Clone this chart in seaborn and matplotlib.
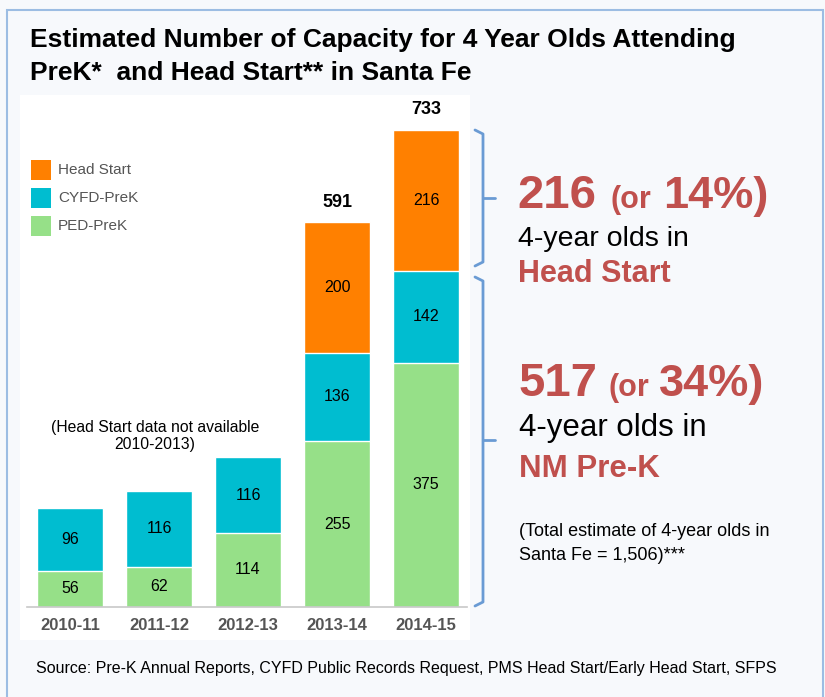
from matplotlib import pyplot as plt
from matplotlib.patches import Rectangle
from matplotlib.lines import Line2D
import seaborn as sns
import numpy as np

years = ["2010-11", "2011-12", "2012-13", "2013-14", "2014-15"]
ped_prek = [56, 62, 114, 255, 375]
cyfd_prek = [96, 116, 116, 136, 142]
head_start = [0, 0, 0, 200, 216]

orange = "#FF8000"
cyan = "#00BDD0"
green = "#96E088"
red = "#C0504D"
blue = "#6A9BD4"

sns.set_theme(style="white")
plt.rcParams['font.family'] = ['Liberation Sans', 'DejaVu Sans']

W, H = 825, 697
fig = plt.figure(figsize=(W / 100, H / 100), dpi=100)
fig.patch.set_facecolor("#F7F9FC")


def fx(x):
    return x / W


def fy(y):
    return 1 - y / H


# frame border
fig.add_artist(Rectangle((fx(7), fy(700)), fx(823 - 7), fy(10) - fy(700),
                         fill=False, edgecolor="#9CBDE3", lw=1.5, transform=fig.transFigure))
# white chart panel
fig.add_artist(Rectangle((fx(20), fy(640)), fx(470 - 20), fy(95) - fy(640),
                         facecolor="white", edgecolor="none", transform=fig.transFigure, zorder=0))

ax = fig.add_axes([fx(27), fy(607), fx(467 - 27), fy(100) - fy(607)])
ax.set_facecolor("none")

ped = np.array(ped_prek)
cy = np.array(cyfd_prek)
hs = np.array(head_start)
width = 0.75

sns.barplot(x=years, y=ped + cy + hs, color=orange, width=width, saturation=1, ax=ax, order=years)
sns.barplot(x=years, y=ped + cy, color=cyan, width=width, saturation=1, ax=ax, order=years)
sns.barplot(x=years, y=ped, color=green, width=width, saturation=1, ax=ax, order=years)

for i in range(len(years)):
    ax.text(i, ped[i] / 2, str(ped[i]), ha="center", va="center", fontsize=11.5, color="black")
    ax.text(i, ped[i] + cy[i] / 2, str(cy[i]), ha="center", va="center", fontsize=11.5, color="black")
    if hs[i] > 0:
        ax.text(i, ped[i] + cy[i] + hs[i] / 2, str(hs[i]), ha="center", va="center",
                fontsize=11.5, color="black")
        tot = ped[i] + cy[i] + hs[i]
        ax.text(i, tot + 18, str(tot), ha="center", va="bottom", fontsize=13,
                fontweight="bold", color="black")

ax.set_xlim(-0.483, 4.46)
ax.set_ylim(0, 779)
ax.set_yticks([])
ax.set_xlabel("")
ax.set_ylabel("")
for s in ["top", "right", "left"]:
    ax.spines[s].set_visible(False)
ax.spines["bottom"].set_color("#C8C8C8")
ax.spines["bottom"].set_linewidth(1.2)
ax.tick_params(axis="x", length=0, pad=8)
ax.set_xticks(np.arange(0.5, 4, 1), minor=True)
ax.tick_params(axis="x", which="minor", length=5, color="#C8C8C8", direction="out")
for lab in ax.get_xticklabels():
    lab.set_fontweight("bold")
    lab.set_fontsize(12)
    lab.set_color("#555555")

# legend
leg = [("Head Start", orange, 170), ("CYFD-PreK", cyan, 198), ("PED-PreK", green, 226)]
for name, c, y in leg:
    fig.add_artist(Rectangle((fx(31), fy(y + 10)), fx(20), fy(y - 10) - fy(y + 10),
                             facecolor=c, edgecolor="none", transform=fig.transFigure))
    fig.text(fx(58), fy(y), name, ha="left", va="center", fontsize=11, color="#555555")

fig.text(fx(155), fy(436), "(Head Start data not available\n2010-2013)", ha="center", va="center",
         fontsize=11.3, color="black", linespacing=1.1)

# title
fig.text(fx(30), fy(40), "Estimated Number of Capacity for 4 Year Olds Attending",
         ha="left", va="center", fontsize=19, fontweight="bold", color="black")
fig.text(fx(30), fy(73), "PreK*  and Head Start** in Santa Fe",
         ha="left", va="center", fontsize=19, fontweight="bold", color="black")


# braces
def brace(x0, y_top, y_bot, y_tip):
    fig.add_artist(Line2D([fx(x0 - 8), fx(x0), fx(x0), fx(x0 - 8)],
                          [fy(y_top), fy(y_top + 4), fy(y_bot - 4), fy(y_bot)],
                          color=blue, lw=2, transform=fig.transFigure))
    fig.add_artist(Line2D([fx(x0), fx(x0 + 12)], [fy(y_tip), fy(y_tip)],
                          color=blue, lw=2, transform=fig.transFigure))


brace(483, 130, 266, 198)
brace(483, 277, 606, 440)

# right side annotations
fig.text(fx(517), fy(208), "216", ha="left", va="baseline", fontsize=34, fontweight="bold", color=red)
fig.text(fx(611), fy(208), "(or", ha="left", va="baseline", fontsize=22, fontweight="bold", color=red)
fig.text(fx(663), fy(208), "14%)", ha="left", va="baseline", fontsize=32.5, fontweight="bold", color=red)
fig.text(fx(518), fy(246), "4-year olds in", ha="left", va="baseline", fontsize=20.5, color="black")
fig.text(fx(518), fy(282), "Head Start", ha="left", va="baseline", fontsize=22, fontweight="bold", color=red)

fig.text(fx(519), fy(396), "517", ha="left", va="baseline", fontsize=34, fontweight="bold", color=red)
fig.text(fx(608), fy(396), "(or", ha="left", va="baseline", fontsize=22, fontweight="bold", color=red)
fig.text(fx(659), fy(396), "34%)", ha="left", va="baseline", fontsize=32.5, fontweight="bold", color=red)
fig.text(fx(519), fy(436), "4-year olds in", ha="left", va="baseline", fontsize=22.5, color="black")
fig.text(fx(519), fy(477), "NM Pre-K", ha="left", va="baseline", fontsize=22.5, fontweight="bold", color=red)

fig.text(fx(519), fy(531), "(Total estimate of 4-year olds in", ha="left", va="center", fontsize=13, color="black")
fig.text(fx(519), fy(555), "Santa Fe = 1,506)***", ha="left", va="center", fontsize=13, color="black")

fig.text(fx(36), fy(668), "Source: Pre-K Annual Reports, CYFD Public Records Request, PMS Head Start/Early Head Start, SFPS",
         ha="left", va="center", fontsize=11.5, color="black")

fig.savefig("out.png", dpi=100, facecolor=fig.get_facecolor())
